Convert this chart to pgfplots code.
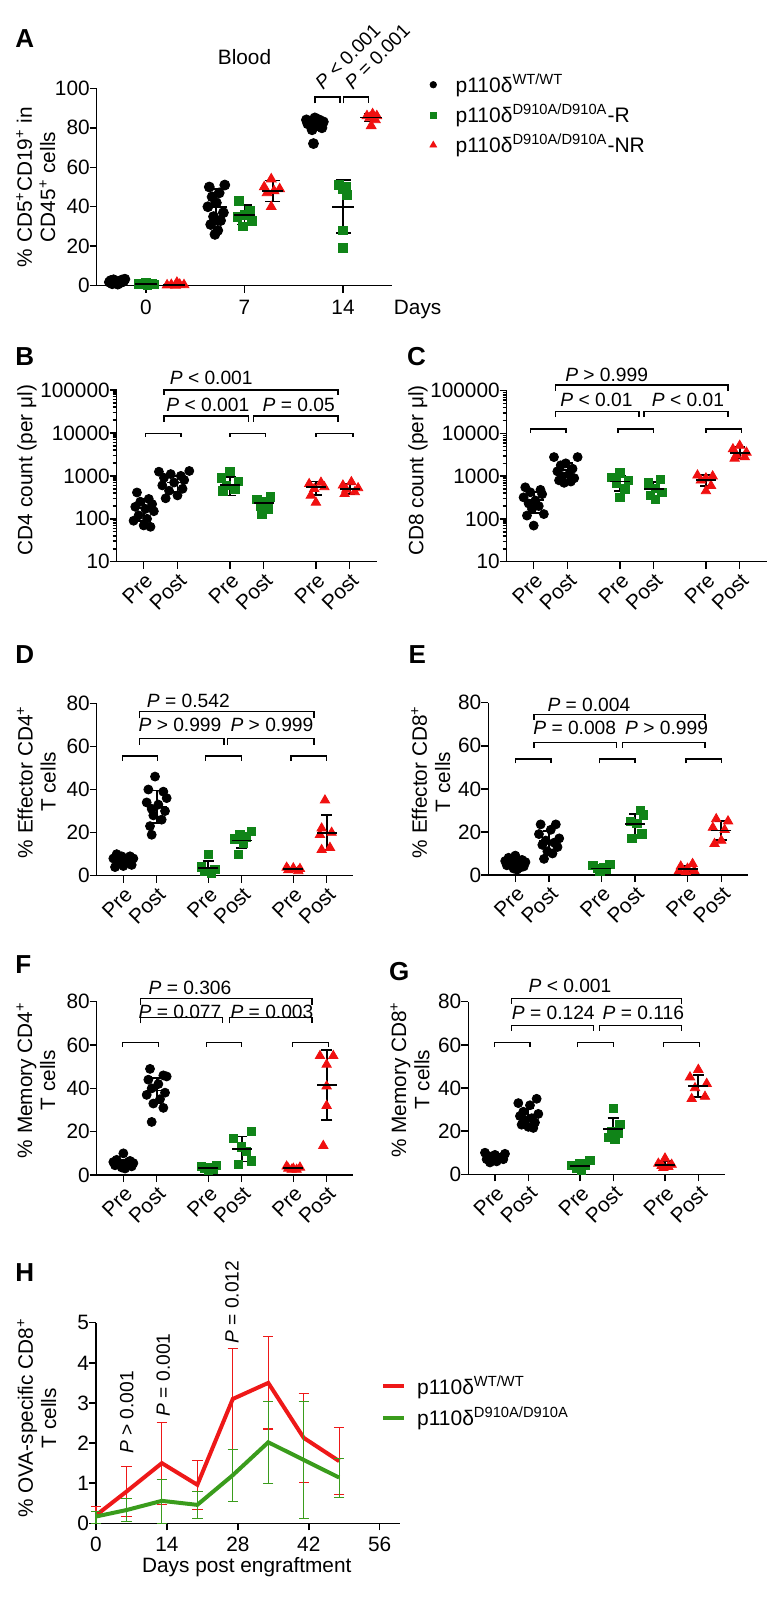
\documentclass[border=0pt]{standalone}
\usepackage{pgfplots}
\pgfplotsset{compat=1.18}
\usepackage{fontspec}
\setmainfont{Liberation Sans}
\definecolor{pgreen}{RGB}{16,132,24}
\definecolor{pred}{RGB}{240,16,16}
\definecolor{hred}{RGB}{238,24,24}
\definecolor{hgreen}{RGB}{58,156,28}
\newcommand\tk{\fontsize{10.4}{11.6}\selectfont}
\newcommand\pv{\fontsize{9.6}{10.5}\selectfont}
\newcommand\lgd{\fontsize{10.5}{12.5}\selectfont}
\newcommand\pl{\fontsize{13}{14}\selectfont\bfseries}
\newcommand\brk[4]{\draw[line width=0.75pt] (axis cs:#1,#4) |- (axis cs:#2,#3) -- (axis cs:#2,#4);}
\pgfplotsset{
  prism/.style={
    scale only axis, clip=false, axis lines*=left,
    axis line style={line width=0.75pt},
    tick style={line width=0.75pt, black},
    major tick length=3.5pt, minor tick length=2pt,
    tick align=outside,
    tick label style={font=\tk},
    yticklabel style={inner sep=1pt},
    yticklabel shift=-1.2pt,
    /pgf/number format/assume math mode=true,
    label style={font=\tk},
    ylabel style={align=center, anchor=center},
  },
  prepost/.style={xmin=0.2, xmax=7.9, xtick={1,2,3.55,4.55,6.1,7.1},
    xticklabels={Pre,Post,Pre,Post,Pre,Post},
    xticklabel style={rotate=45, anchor=north east, inner sep=1pt}},
  bk/.style={only marks, mark=*, mark size=2.25pt, black},
  gr/.style={only marks, mark=square*, mark size=2.1pt, pgreen, mark options={fill=pgreen, draw=pgreen}},
  rd/.style={only marks, mark=triangle*, mark size=2.7pt, pred, mark options={fill=pred, draw=pred}},
  msd/.style={only marks, mark=-, mark size=5pt, black, mark options={line width=0.9pt},
    error bars/y dir=both, error bars/y explicit,
    error bars/error bar style={line width=0.9pt, black},
    error bars/error mark options={rotate=90, line width=0.9pt, mark size=2.9pt, black}},
  logticks/.style={ymin=10, ymax=100000,
    ytick={10,100,1000,10000,100000}, yticklabels={10,100,1000,10000,100000},
    minor ytick={20,30,40,50,60,70,80,90,200,300,400,500,600,700,800,900,2000,3000,4000,5000,6000,7000,8000,9000,20000,30000,40000,50000,60000,70000,80000,90000}},
}
\begin{document}
\begin{tikzpicture}
\useasboundingbox (0,0) rectangle (391.5pt,-800pt);
\node[font=\pl, anchor=base west, inner sep=0] at (7.5pt,-24pt) {A};
\node[font=\pl, anchor=base west, inner sep=0] at (7.5pt,-182.5pt) {B};
\node[font=\pl, anchor=base west, inner sep=0] at (203.3pt,-182.5pt) {C};
\node[font=\pl, anchor=base west, inner sep=0] at (7.5pt,-331.6pt) {D};
\node[font=\pl, anchor=base west, inner sep=0] at (204.1pt,-331.6pt) {E};
\node[font=\pl, anchor=base west, inner sep=0] at (7.5pt,-486.6pt) {F};
\node[font=\pl, anchor=base west, inner sep=0] at (194.3pt,-490pt) {G};
\node[font=\pl, anchor=base west, inner sep=0] at (7.5pt,-640.8pt) {H};

% ---------------- A
\begin{axis}[prism, at={(48.35pt,-142.85pt)}, anchor=south west, width=147.8pt, height=98.7pt,
  xmin=-3.5, xmax=17.5, ymin=0, ymax=100, xtick={0,7,14}, ytick={0,20,...,100},
  ylabel={\% CD5\textsuperscript{+}CD19\textsuperscript{+} in\\CD45\textsuperscript{+} cells},
  ylabel style={at={(axis description cs:-0.206,0.5)}},
  legend style={at={(axis cs:20.15,108.5)}, anchor=north west, draw=none, fill=none, font=\lgd, inner sep=0pt, row sep=2.3pt, nodes={inner sep=1pt}},
  legend cell align=left,
  legend image code/.code={\draw[#1] plot coordinates {(0pt,0pt)}; \node[inner sep=0pt, minimum size=0pt] at (10pt,0pt) {};}]
\addlegendimage{only marks, mark=*, mark size=1.6pt, black}
\addlegendimage{only marks, mark=square*, mark size=1.5pt, pgreen}
\addlegendimage{only marks, mark=triangle*, mark size=1.9pt, pred}
\legend{p110δ\textsuperscript{WT/WT}, p110δ\textsuperscript{D910A/D910A}-R, p110δ\textsuperscript{D910A/D910A}-NR}
\addplot[bk, mark size=2.5pt] coordinates {(-2.5,2.6) (-2.1,1.2) (-1.6,2.2) (-2.3,3.0) (-1.8,1.6) (-2.6,1.8) (-1.5,3.3) (-2.0,0.8) (-2.2,2.4) (-1.7,2.9) (-2.4,1.0) (-1.9,2.0)
 (4.5,50) (5.6,51) (5.2,47) (4.7,45) (5.0,42) (4.4,40) (5.5,37) (4.8,35) (5.3,33) (4.6,31) (5.1,28) (4.9,26)
 (11.4,84) (11.7,83) (12.0,85) (12.3,84) (12.6,83) (11.5,82) (11.9,81) (12.2,82) (12.5,80) (11.8,79) (12.1,83) (11.9,72)};
\addplot[gr, mark size=2.2pt] coordinates {(-0.5,0.8) (-0.2,1.2) (0.1,0.5) (0.4,1.0) (0.6,0.7) (0.0,1.6)
 (6.6,43) (7.4,38) (7.0,36) (6.5,35) (7.5,33) (6.9,30)
 (13.7,51) (14.2,50) (14.0,49) (14.3,46) (14.0,28) (14.0,19)};
\addplot[rd, mark size=2.8pt] coordinates {(1.5,0.3) (1.8,0.5) (2.1,0.2) (2.4,0.6) (2.7,0.4) (2.2,1.6)
 (8.9,54) (8.4,50) (9.5,49) (9.1,48) (8.6,47) (8.9,40)
 (15.7,86) (16.1,87) (16.4,86) (15.9,85) (16.3,84) (16.0,81)};
\addplot[msd, mark size=5.4pt, error bars/error mark options={rotate=90, line width=0.9pt, mark size=3.75pt, black}] coordinates {
 (-2,2) +- (0,1) (0,0.9) +- (0,0.4) (2,0.5) +- (0,0.3)
 (5,40) +- (0,9) (7,36) +- (0,5) (9,48) +- (0,5.3)
 (12,82) +- (0,3.3) (14,40) +- (0,13.5) (16,85.2) +- (0,2)};
\brk{12.0}{13.8}{95.7}{92.4}
\brk{14.05}{15.8}{95.7}{92.4}
\node[font=\pv, rotate=45, anchor=south west, inner sep=1pt] at (axis cs:12.6,97) {\textit{P} < 0.001};
\node[font=\pv, rotate=45, anchor=south west, inner sep=1pt] at (axis cs:14.7,97) {\textit{P} = 0.001};
\node[font=\tk] at (axis cs:7,116) {Blood};
\node[font=\tk] at (axis cs:19.3,-12.3) {Days};
\end{axis}

% ---------------- B
\begin{axis}[ymode=log, prism, prepost, logticks, at={(58.35pt,-280.85pt)}, anchor=south west, width=130pt, height=85.85pt,
  ylabel={CD4 count (per μl)}, ylabel style={at={(axis description cs:-0.345,0.534)}}]
\addplot[bk] coordinates {(0.8,410) (1.15,290) (0.9,250) (1.25,220) (0.75,190) (1.05,170) (1.3,150) (0.85,120) (1.1,100) (0.7,90) (1.0,70) (1.2,65)
 (1.45,1250) (2.35,1300) (1.8,1100) (2.1,1000) (1.6,900) (2.2,800) (1.9,700) (1.55,600) (2.15,500) (1.75,450) (2.0,350) (1.65,300)};
\addplot[gr] coordinates {(3.55,1250) (3.3,900) (3.8,750) (3.45,600) (3.7,500) (3.35,450)
 (4.75,320) (4.35,280) (4.6,250) (4.45,200) (4.7,170) (4.5,130)};
\addplot[rd] coordinates {(6.25,700) (5.9,650) (6.35,550) (6.05,500) (5.95,350) (6.1,240)
 (7.15,720) (6.9,600) (7.35,520) (7.0,480) (7.25,420) (6.95,380)};
\addplot[msd] coordinates {(1,175) += (0,115) -= (0,85) (2,700) += (0,300) -= (0,280)
 (3.55,620) += (0,310) -= (0,270) (4.55,230) += (0,60) -= (0,60)
 (6.1,540) += (0,200) -= (0,180) (7.1,500) += (0,140) -= (0,130)};
\brk{1.05}{2.1}{9800}{8100}
\brk{3.55}{4.6}{9800}{8100}
\brk{6.1}{7.2}{9800}{8100}
\brk{1.6}{4.1}{24500}{18000}
\brk{4.25}{6.75}{24500}{18000}
\brk{1.6}{6.75}{100000}{78000}
\node[font=\pv] at (axis cs:3.0,195000) {\textit{P} < 0.001};
\node[font=\pv] at (axis cs:2.9,46000) {\textit{P} < 0.001};
\node[font=\pv] at (axis cs:5.59,46000) {\textit{P} = 0.05};
\end{axis}

% ---------------- C
\begin{axis}[ymode=log, prism, prepost, logticks, at={(253.35pt,-280.85pt)}, anchor=south west, width=130pt, height=85.5pt,
  ylabel={CD8 count (per μl)}, ylabel style={at={(axis description cs:-0.341,0.534)}}]
\addplot[bk] coordinates {(0.75,550) (1.2,480) (0.9,420) (1.25,380) (0.7,320) (1.05,270) (0.85,230) (1.15,200) (0.95,170) (1.3,130) (0.8,120) (1.0,70)
 (1.6,2800) (2.3,2800) (1.95,2000) (1.8,1800) (2.15,1500) (1.7,1300) (2.05,1100) (1.85,1000) (2.2,900) (1.75,800) (2.1,750) (1.9,700)};
\addplot[gr] coordinates {(3.55,1200) (3.3,950) (3.8,800) (3.45,700) (3.7,500) (3.55,320)
 (4.75,850) (4.4,700) (4.6,520) (4.8,420) (4.45,350) (4.6,290)};
\addplot[rd] coordinates {(5.85,1050) (6.3,1000) (6.1,900) (5.95,800) (6.25,600) (6.1,450)
 (7.1,5200) (6.9,4300) (7.3,3600) (7.0,3100) (7.25,2800) (6.95,2600)};
\addplot[msd] coordinates {(1,280) += (0,150) -= (0,140) (2,1400) += (0,600) -= (0,700)
 (3.55,750) += (0,250) -= (0,290) (4.55,500) += (0,230) -= (0,190)
 (6.1,800) += (0,250) -= (0,200) (7.1,3500) += (0,1300) -= (0,900)};
\brk{0.9}{1.95}{12600}{10400}
\brk{3.5}{4.55}{12600}{10400}
\brk{6.1}{7.15}{12600}{10400}
\brk{1.65}{4.12}{32400}{24000}
\brk{4.27}{6.76}{32400}{24000}
\brk{1.65}{6.76}{135000}{100000}
\node[font=\pv] at (axis cs:3.16,240000) {\textit{P} > 0.999};
\node[font=\pv] at (axis cs:2.86,60500) {\textit{P} < 0.01};
\node[font=\pv] at (axis cs:5.57,60500) {\textit{P} < 0.01};
\end{axis}

% ---------------- D
\begin{axis}[prism, prepost, at={(48.35pt,-437.85pt)}, anchor=south west, width=128.3pt, height=86.2pt,
  ymin=0, ymax=80, ytick={0,20,...,80},
  ylabel={\% Effector CD4\textsuperscript{+}\\T cells}, ylabel style={at={(axis description cs:-0.235,0.544)}}]
\addplot[bk] coordinates {(0.8,10) (1.2,9) (0.95,9) (1.3,8) (0.7,8) (1.05,7) (0.85,7) (1.15,6) (0.9,6) (1.25,5) (1.0,4.5) (0.75,4)
 (1.95,46) (1.75,40) (2.2,39) (2.3,36) (1.7,34) (2.05,33) (1.85,31) (2.25,30) (1.9,28) (2.15,26) (1.8,23) (1.85,19)};
\addplot[gr] coordinates {(3.55,10) (3.35,4) (3.75,3) (3.45,2) (3.65,1) (3.55,2)
 (4.85,20.5) (4.5,19) (4.7,18) (4.35,17) (4.6,15) (4.45,10)};
\addplot[rd] coordinates {(5.9,3.8) (6.3,3.2) (6.1,3) (5.95,2.6) (6.25,2.2) (6.1,3.5)
 (7.05,35) (6.95,22) (7.25,20) (6.9,19) (7.2,13) (6.95,12)};
\addplot[msd] coordinates {(1,7) +- (0,1.7) (2,32) +- (0,7.5) (3.55,3.7) +- (0,3.1) (4.55,16.3) +- (0,3.5) (6.1,3) +- (0,0.6) (7.1,20) +- (0,8)};
\brk{0.97}{2.03}{55.5}{53.4}
\brk{3.47}{4.55}{55.5}{53.4}
\brk{6.03}{7.1}{55.5}{53.4}
\brk{1.48}{4.02}{63.75}{60.7}
\brk{4.12}{6.72}{63.75}{60.7}
\brk{1.48}{6.72}{76.1}{73}
\node[font=\pv] at (axis cs:2.95,81.2) {\textit{P} = 0.542};
\node[font=\pv] at (axis cs:2.7,69.8) {\textit{P} > 0.999};
\node[font=\pv] at (axis cs:5.46,69.8) {\textit{P} > 0.999};
\end{axis}

% ---------------- E
\begin{axis}[prism, prepost, at={(244.15pt,-437.5pt)}, anchor=south west, width=130pt, height=86.15pt,
  ymin=0, ymax=80, ytick={0,20,...,80},
  ylabel={\% Effector CD8\textsuperscript{+}\\T cells}, ylabel style={at={(axis description cs:-0.221,0.54)}}]
\addplot[bk] coordinates {(1.0,9) (0.8,8) (1.2,7) (0.7,6.5) (1.3,6) (0.9,5) (1.1,5) (0.75,4.5) (1.25,4) (0.95,3) (1.05,2.5) (1.15,3.5)
 (1.75,23.5) (2.2,23.5) (2.05,21) (1.7,19) (2.3,17) (1.9,16) (2.15,15) (1.8,14) (2.25,13) (1.95,11) (2.1,10) (1.85,7.5)};
\addplot[gr] coordinates {(3.8,5) (3.3,4.5) (3.6,3.5) (3.45,3) (3.7,2.5) (3.5,2)
 (4.7,30) (4.8,28) (4.4,25) (4.6,24) (4.75,19) (4.45,17)};
\addplot[rd] coordinates {(6.25,5.2) (5.9,4) (6.1,3) (5.85,2) (6.3,2) (6.05,1.5)
 (6.95,26) (7.3,25) (6.85,22) (7.2,21) (7.1,16) (6.9,14.5)};
\addplot[msd] coordinates {(1,5) +- (0,1.8) (2,15.7) +- (0,4.8) (3.55,3) +- (0,1) (4.55,23.5) +- (0,5) (6.1,2.8) +- (0,1.4) (7.1,20.7) +- (0,4.3)};
\brk{1.0}{2.05}{53.8}{51.8}
\brk{3.5}{4.55}{53.8}{51.8}
\brk{6.05}{7.1}{53.8}{51.8}
\brk{1.55}{4.0}{61.6}{59}
\brk{4.17}{6.62}{61.6}{59}
\brk{1.55}{6.62}{74.6}{72}
\node[font=\pv] at (axis cs:3.18,79) {\textit{P} = 0.004};
\node[font=\pv] at (axis cs:2.76,68.3) {\textit{P} = 0.008};
\node[font=\pv] at (axis cs:5.48,68.3) {\textit{P} > 0.999};
\end{axis}

% ---------------- F
\begin{axis}[prism, prepost, at={(48.35pt,-587.5pt)}, anchor=south west, width=128.3pt, height=86.65pt,
  ymin=0, ymax=80, ytick={0,20,...,80},
  ylabel={\% Memory CD4\textsuperscript{+}\\T cells}, ylabel style={at={(axis description cs:-0.237,0.548)}}]
\addplot[bk] coordinates {(1.0,10) (0.8,7) (1.2,6.5) (0.7,6) (1.3,5.5) (0.9,5) (1.1,5) (0.75,4.5) (1.25,4) (0.95,3.5) (1.05,3) (1.15,6)
 (1.8,49) (2.2,46) (2.3,45.5) (1.75,44) (2.05,42) (1.85,40) (2.25,38) (1.7,37) (2.1,35) (1.9,33) (2.2,31) (1.85,24.5)};
\addplot[gr] coordinates {(3.8,4.5) (3.35,4) (3.6,3.5) (3.45,3) (3.7,2.5) (3.55,2)
 (4.85,20) (4.3,17) (4.55,13) (4.7,11) (4.85,6.5) (4.45,5)};
\addplot[rd] coordinates {(5.9,4) (6.3,3.5) (6.1,3) (5.95,3) (6.2,2.5) (6.05,2.5)
 (6.9,55) (7.3,55) (7.1,51) (7.1,41) (7.1,32) (7.0,13.5)};
\addplot[msd] coordinates {(1,5.5) +- (0,1.6) (2,39) +- (0,5.8) (3.55,3.3) +- (0,1) (4.55,12) +- (0,5.8) (6.1,3.2) +- (0,0.6) (7.1,41.5) +- (0,16.2)};
\brk{0.98}{2.05}{61.1}{59.2}
\brk{3.5}{4.55}{61.1}{59.2}
\brk{6.07}{7.15}{61.1}{59.2}
\brk{1.52}{3.98}{72.8}{70}
\brk{4.18}{6.66}{72.8}{70}
\brk{1.52}{6.66}{81.5}{78.5}
\node[font=\pv] at (axis cs:3.0,86.2) {\textit{P} = 0.306};
\node[font=\pv] at (axis cs:2.7,75.4) {\textit{P} = 0.077};
\node[font=\pv] at (axis cs:5.46,75.4) {\textit{P} = 0.003};
\end{axis}

% ---------------- G
\begin{axis}[prism, prepost, at={(234.15pt,-587.15pt)}, anchor=south west, width=128.35pt, height=86.3pt,
  ymin=0, ymax=80, ytick={0,20,...,80},
  ylabel={\% Memory CD8\textsuperscript{+}\\T cells}, ylabel style={at={(axis description cs:-0.227,0.548)}}]
\addplot[bk] coordinates {(0.7,10) (1.3,9.5) (1.0,9) (0.8,8.5) (1.2,8) (0.9,8) (1.1,7.5) (0.75,7) (1.25,7) (0.95,6.5) (1.05,6) (0.85,5.5)
 (2.25,35) (1.7,33) (2.05,32) (1.85,29) (2.3,28) (1.75,27) (2.1,26) (1.9,25) (2.2,24) (1.8,23) (2.0,22) (2.15,21.5)};
\addplot[gr] coordinates {(3.85,6.5) (3.55,5) (3.3,4) (3.7,4) (3.45,3) (3.6,2)
 (4.55,30.5) (4.75,23) (4.5,20) (4.7,19) (4.4,17) (4.6,16.5)};
\addplot[rd] coordinates {(6.1,7.4) (5.9,5) (6.3,4.5) (6.0,4) (6.2,3.5) (6.05,3)
 (7.1,48.5) (6.85,45) (7.35,42) (7.0,40) (7.3,36) (6.9,35)};
\addplot[msd] coordinates {(1,8) +- (0,1.4) (2,26.5) +- (0,4) (3.55,4) +- (0,1.5) (4.55,21) +- (0,5) (6.1,4.5) +- (0,1.6) (7.1,41) +- (0,5)};
\brk{0.98}{2.05}{61}{59}
\brk{3.48}{4.55}{61}{59}
\brk{6.05}{7.13}{61}{59}
\brk{1.5}{3.95}{68.9}{66.5}
\brk{4.13}{6.6}{68.9}{66.5}
\brk{1.5}{6.6}{81.5}{79}
\node[font=\pv] at (axis cs:3.25,87.2) {\textit{P} < 0.001};
\node[font=\pv] at (axis cs:2.75,74.6) {\textit{P} = 0.124};
\node[font=\pv] at (axis cs:5.45,74.6) {\textit{P} = 0.116};
\end{axis}

% ---------------- H
\begin{axis}[prism, at={(48pt,-761.65pt)}, anchor=south west, width=152pt, height=100.3pt,
  xmin=0, xmax=60, ymin=0, ymax=5, xtick={0,14,28,42,56}, ytick={0,1,...,5},
  ylabel={\% OVA-specific CD8\textsuperscript{+}\\T cells}, ylabel style={at={(axis description cs:-0.195,0.525)}},
  xlabel={Days post engraftment}, xlabel style={at={(axis description cs:0.496,-0.218)}, anchor=center},
  legend style={at={(axis cs:56.2,3.74)}, anchor=north west, draw=none, fill=none, font=\lgd, inner sep=0pt, row sep=3pt, nodes={inner sep=1pt}},
  legend cell align=left,
  legend image code/.code={\draw[#1] (0pt,0pt) -- (10.5pt,0pt); \node[inner sep=0pt, minimum size=0pt] at (15pt,0pt) {};}]
\addlegendimage{hred, line width=2pt}
\addlegendimage{hgreen, line width=2pt}
\legend{p110δ\textsuperscript{WT/WT}, p110δ\textsuperscript{D910A/D910A}}
\addplot[hred, line width=2pt, mark=none, error bars/y dir=both, error bars/y explicit,
  error bars/error bar style={line width=0.6pt, hred}, error bars/error mark options={rotate=90, line width=0.6pt, mark size=2.6pt, hred}]
 coordinates {(0,0.2) += (0,0.22) -= (0,0.2) (6,0.79) += (0,0.62) -= (0,0.62) (13,1.5) += (0,1.01) -= (0,1.04)
 (20,0.96) += (0,0.6) -= (0,0.61) (27,3.1) += (0,1.26) -= (0,1.26) (34,3.5) += (0,1.15) -= (0,1.15)
 (41,2.13) += (0,1.11) -= (0,1.11) (48,1.55) += (0,0.83) -= (0,0.84)};
\addplot[hgreen, line width=2pt, mark=none, error bars/y dir=both, error bars/y explicit,
  error bars/error bar style={line width=0.6pt, hgreen}, error bars/error mark options={rotate=90, line width=0.6pt, mark size=2.6pt, hgreen}]
 coordinates {(0,0.17) += (0,0.12) -= (0,0.17) (6,0.33) += (0,0.29) -= (0,0.29) (13,0.56) += (0,0.54) -= (0,0.56)
 (20,0.46) += (0,0.33) -= (0,0.34) (27,1.2) += (0,0.64) -= (0,0.66) (34,2.02) += (0,1.01) -= (0,1.02)
 (41,1.58) += (0,1.45) -= (0,1.46) (48,1.14) += (0,0.48) -= (0,0.49)};
\node[font=\pv, rotate=90] at (axis cs:6.07,2.76) {\textit{P} > 0.001};
\node[font=\pv, rotate=90] at (axis cs:13.3,3.70) {\textit{P} = 0.001};
\node[font=\pv, rotate=90] at (axis cs:26.85,5.51) {\textit{P} = 0.012};
\end{axis}
\end{tikzpicture}
\end{document}
